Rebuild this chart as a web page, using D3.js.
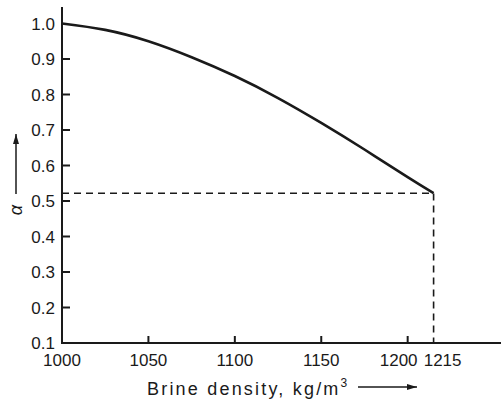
<!DOCTYPE html>
<html lang="en">
<head>
  <meta charset="UTF-8">
  <script src="https://d3js.org/d3.v7.min.js"></script>
  <title>Alpha vs brine density</title>
  <style>
    body { margin: 0; background: #fff; }
    svg text { font-family: 'Liberation Sans', Arial, sans-serif; fill: #1a1a1a; }
  </style>
</head>
<body>
  <svg width="503" height="402"></svg>
  <script>
    // data
    const density = [1000, 1025, 1050, 1075, 1100, 1125, 1150, 1175, 1200, 1215];
    const alpha = [1.0, 0.982, 0.950, 0.905, 0.852, 0.790, 0.720, 0.645, 0.567, 0.522];
    const xTicks = [1000, 1050, 1100, 1150, 1200, 1215];
    const yTicks = [0.1, 0.2, 0.3, 0.4, 0.5, 0.6, 0.7, 0.8, 0.9, 1.0];
    const endDensity = 1215;
    const endAlpha = 0.522;

    const svg = d3.select("svg");
    const x = d3.scaleLinear().domain([1000, 1254]).range([62, 501]);
    const y = d3.scaleLinear().domain([0.1, 1.0]).range([343, 23.5]);
    const ink = "#1a1a1a";

    // axis lines
    svg.append("line")
      .attr("x1", x(1000)).attr("x2", x(1000))
      .attr("y1", y(0.1) + 1).attr("y2", 7)
      .attr("stroke", ink).attr("stroke-width", 2);
    svg.append("line")
      .attr("x1", x(1000) - 1).attr("x2", x(1254))
      .attr("y1", y(0.1)).attr("y2", y(0.1))
      .attr("stroke", ink).attr("stroke-width", 2);

    // y ticks (inside) and labels
    svg.selectAll(".yt").data(yTicks.filter(d => d > 0.1 && d < 1.0)).enter()
      .append("line")
      .attr("x1", x(1000)).attr("x2", x(1000) + 8)
      .attr("y1", d => y(d)).attr("y2", d => y(d))
      .attr("stroke", ink).attr("stroke-width", 2);
    svg.selectAll(".yl").data(yTicks).enter()
      .append("text")
      .attr("x", 55).attr("y", d => y(d) + 6)
      .attr("text-anchor", "end")
      .attr("font-size", 17)
      .text(d => d.toFixed(1));

    // x ticks (inside) and labels
    svg.selectAll(".xt").data(xTicks.filter(d => d > 1000 && d <= 1200)).enter()
      .append("line")
      .attr("x1", d => x(d)).attr("x2", d => x(d))
      .attr("y1", y(0.1)).attr("y2", y(0.1) - 7)
      .attr("stroke", ink).attr("stroke-width", 2);
    const nudge = { 1200: -9, 1215: 9 };
    svg.selectAll(".xl").data(xTicks).enter()
      .append("text")
      .attr("x", d => x(d) + (nudge[d] || 0)).attr("y", 366)
      .attr("text-anchor", "middle")
      .attr("font-size", 17)
      .text(d => d);

    // dashed guide lines
    svg.append("path")
      .attr("d", `M${x(1000)},${y(endAlpha)}H${x(endDensity)}V${y(0.1)}`)
      .attr("fill", "none")
      .attr("stroke", ink).attr("stroke-width", 1.6)
      .attr("stroke-dasharray", "7,5");

    // curve
    const line = d3.line()
      .x((d, i) => x(density[i]))
      .y(d => y(d))
      .curve(d3.curveNatural);
    svg.append("path")
      .attr("d", line(alpha))
      .attr("fill", "none")
      .attr("stroke", ink).attr("stroke-width", 2.6);

    // arrowheads
    const defs = svg.append("defs");
    defs.append("marker")
      .attr("id", "arr").attr("viewBox", "0 0 10 6")
      .attr("refX", 10).attr("refY", 3)
      .attr("markerWidth", 10).attr("markerHeight", 6)
      .attr("markerUnits", "userSpaceOnUse")
      .attr("orient", "auto")
      .append("path").attr("d", "M0,0L10,3L0,6Z").attr("fill", ink);

    // y label
    svg.append("line")
      .attr("x1", 16).attr("x2", 16).attr("y1", 194).attr("y2", 134)
      .attr("stroke", ink).attr("stroke-width", 1.5)
      .attr("marker-end", "url(#arr)");
    svg.append("text")
      .attr("transform", "translate(22,210) rotate(-90)")
      .attr("text-anchor", "middle")
      .attr("font-size", 18)
      .attr("font-style", "italic")
      .text("α");

    // x label
    const xl = svg.append("text")
      .attr("x", 147).attr("y", 395)
      .attr("font-size", 18)
      .attr("letter-spacing", 2.2);
    xl.append("tspan").text("Brine density, kg/m");
    xl.append("tspan").attr("font-size", 12).attr("dy", -8).text("3");
    svg.append("line")
      .attr("x1", 358).attr("x2", 417).attr("y1", 387).attr("y2", 387)
      .attr("stroke", ink).attr("stroke-width", 1.5)
      .attr("marker-end", "url(#arr)");
  </script>
</body>
</html>
